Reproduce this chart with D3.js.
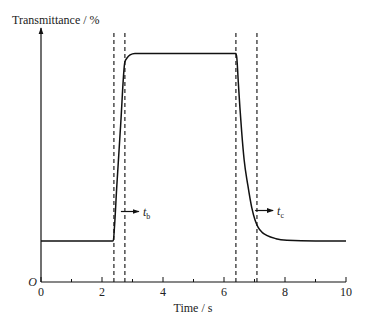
<!DOCTYPE html>
<html>
<head>
<meta charset="utf-8">
<script src="https://cdn.jsdelivr.net/npm/d3@7"></script>
<style>
  body { margin: 0; background: #fff; }
</style>
</head>
<body>
<svg id="chart"></svg>
<script>
// Chart size
const width = 367;
const height = 320;
const font = '"Liberation Serif", "Times New Roman", "DejaVu Serif", serif';

// Data: transmittance (%) against time (s)
const times = [0, 1, 2.3, 2.37, 2.41, 2.48, 2.61, 2.75, 2.82, 2.92, 3.08, 4, 5, 6, 6.39, 6.42, 6.47, 6.52, 6.58, 6.66, 6.78, 6.91, 7.02, 7.12, 7.25, 7.40, 7.7, 8.06, 9, 10];
const transmittance = [16.3, 16.3, 16.3, 16.4, 22.0, 37.0, 62.0, 87.3, 88.9, 90.1, 90.7, 90.7, 90.7, 90.7, 90.7, 89.0, 79.0, 69.5, 59.5, 48.5, 38.5, 29.5, 24.5, 21.7, 19.7, 18.5, 17.2, 16.6, 16.3, 16.3];
const markerTimes = [2.39, 2.75, 6.39, 7.08];
const xTicks = [0, 1, 2, 3, 4, 5, 6, 7, 8, 9, 10];
const xLabels = [0, 2, 4, 6, 8, 10];

const margin = { left: 41, right: 21, top: 30, bottom: 38 };

const svg = d3.select('#chart')
  .attr('width', width)
  .attr('height', height);

const x = d3.scaleLinear().domain([0, 10]).range([margin.left, width - margin.right]);
const y = d3.scaleLinear().domain([0, 100]).range([height - margin.bottom, margin.top]);

const y0 = y(0);

// Arrow marker
const defs = svg.append('defs');
defs.append('marker')
  .attr('id', 'arrow')
  .attr('viewBox', '0 0 10 10')
  .attr('refX', 9).attr('refY', 5)
  .attr('markerWidth', 7).attr('markerHeight', 7)
  .attr('markerUnits', 'userSpaceOnUse')
  .attr('orient', 'auto')
  .append('path')
  .attr('d', 'M0,1.5 L10,5 L0,8.5 Z')
  .attr('fill', '#111');

// Dashed marker lines
svg.selectAll('.marker-line')
  .data(markerTimes)
  .enter().append('line')
    .attr('class', 'marker-line')
    .attr('x1', d => x(d)).attr('x2', d => x(d))
    .attr('y1', 33).attr('y2', y0)
    .attr('stroke', '#333')
    .attr('stroke-width', 1.3)
    .attr('stroke-dasharray', '4,3');

// X axis line and ticks (ticks point inward)
svg.append('line')
  .attr('x1', x(0)).attr('x2', x(10))
  .attr('y1', y0).attr('y2', y0)
  .attr('stroke', '#111').attr('stroke-width', 1.2);

svg.selectAll('.tick')
  .data(xTicks)
  .enter().append('line')
    .attr('x1', d => x(d)).attr('x2', d => x(d))
    .attr('y1', y0)
    .attr('y2', d => y0 - (d % 2 === 0 ? 5 : 3))
    .attr('stroke', '#111').attr('stroke-width', 1);

svg.selectAll('.tick-label')
  .data(xLabels)
  .enter().append('text')
    .attr('x', d => x(d))
    .attr('y', y0 + 14)
    .attr('text-anchor', 'middle')
    .attr('font-family', font)
    .attr('font-size', 12)
    .attr('fill', '#222')
    .text(d => d);

// Origin label
svg.append('text')
  .attr('x', x(0) - 4).attr('y', y0 + 4)
  .attr('text-anchor', 'end')
  .attr('font-family', font)
  .attr('font-size', 12)
  .attr('font-style', 'italic')
  .attr('fill', '#222')
  .text('O');

// Y axis with arrow
svg.append('line')
  .attr('x1', x(0)).attr('x2', x(0))
  .attr('y1', y0).attr('y2', 28)
  .attr('stroke', '#111').attr('stroke-width', 1.2)
  .attr('marker-end', 'url(#arrow)');

// Axis titles
svg.append('text')
  .attr('x', 12).attr('y', 24)
  .attr('font-family', font)
  .attr('font-size', 12)
  .attr('fill', '#222')
  .text('Transmittance / %');

svg.append('text')
  .attr('x', 193).attr('y', y0 + 30)
  .attr('text-anchor', 'middle')
  .attr('font-family', font)
  .attr('font-size', 12)
  .attr('fill', '#222')
  .text('Time / s');

// Curve
const line = d3.line()
  .x((d, i) => x(times[i]))
  .y(d => y(d))
  .curve(d3.curveMonotoneX);

svg.append('path')
  .datum(transmittance)
  .attr('d', line)
  .attr('fill', 'none')
  .attr('stroke', '#111')
  .attr('stroke-width', 1.5);

// t_b and t_c annotations
const notes = [
  { t: 2.62, y: 211.5, base: 't', sub: 'b' },
  { t: 7.02, y: 210.5, base: 't', sub: 'c' }
];

notes.forEach(n => {
  const x1 = x(n.t);
  svg.append('line')
    .attr('x1', x1).attr('x2', x1 + 18)
    .attr('y1', n.y).attr('y2', n.y)
    .attr('stroke', '#111').attr('stroke-width', 1.2)
    .attr('marker-end', 'url(#arrow)');
  const label = svg.append('text')
    .attr('x', x1 + 22).attr('y', n.y + 4)
    .attr('font-family', font)
    .attr('font-size', 12)
    .attr('font-style', 'italic')
    .attr('fill', '#222')
    .text(n.base);
  label.append('tspan')
    .attr('dy', 3)
    .attr('font-size', 8)
    .attr('font-style', 'normal')
    .text(n.sub);
});
</script>
</body>
</html>
